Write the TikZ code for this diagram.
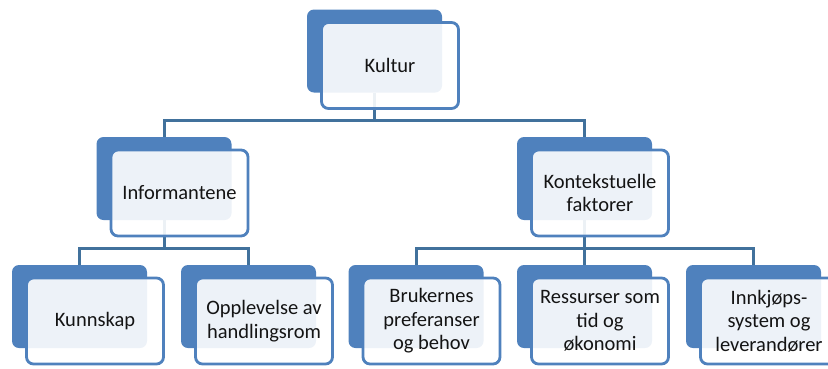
\documentclass[tikz,border=0pt]{standalone}
\usepackage{fontspec}
\setmainfont{Carlito}
\usepackage{xcolor}
\usepackage{tikz}
\usetikzlibrary{calc, backgrounds}
\definecolor{boksblaa}{RGB}{79,129,189}
\definecolor{linjeblaa}{RGB}{65,113,156}
\tikzset{every node/.append style={font=\fontsize{20.5}{23.5}\selectfont}}

\begin{document}
\begin{tikzpicture}[x=1pt, y=-1pt,
    bak/.style={fill=boksblaa, rounded corners=7pt, minimum width=135pt, minimum height=83pt, inner sep=0pt},
    front/.style={draw=boksblaa, line width=2.8pt, fill=white, fill opacity=0.9, text opacity=1,
      rounded corners=7pt, minimum width=137pt, minimum height=86pt, inner sep=0pt, align=center, text=black!92},
    kobling/.style={draw=linjeblaa, line width=3pt}]
    \useasboundingbox (0,0) rectangle (828,368);
    \clip (0,0) rectangle (828,368);
    \coordinate (bar1) at (0,120);
    \coordinate (bar2) at (0,248);
    \node[bak] (kulturB) at (374.5,51) {};
    \node[bak] (infoB) at (164,178.5) {};
    \node[bak] (kontB) at (584.5,178.5) {};
    \node[bak] (kunnB) at (79.5,306.5) {};
    \node[bak] (oppB) at (248.5,306.5) {};
    \node[bak] (brukB) at (416,306.5) {};
    \node[bak] (ressB) at (584.5,306.5) {};
    \node[bak] (innkB) at (753.5,306.5) {};
    \node[front] (kulturF) at ($(kulturB)+(15.5,14.5)$) {Kultur};
    \node[front] (infoF) at ($(infoB)+(15.5,14.5)$) {Informantene};
    \node[front] (kontF) at ($(kontB)+(15.5,14.5)$) {Kontekstuelle\\faktorer};
    \node[front] (kunnF) at ($(kunnB)+(15.5,14.5)$) {Kunnskap};
    \node[front] (oppF) at ($(oppB)+(15.5,14.5)$) {Opplevelse av\\handlingsrom};
    \node[front] (brukF) at ($(brukB)+(15.5,14.5)$) {Brukernes\\preferanser\\og behov};
    \node[front] (ressF) at ($(ressB)+(15.5,14.5)$) {Ressurser som\\tid og\\økonomi};
    \node[front] (innkF) at ($(innkB)+(15.5,14.5)$) {Innkjøps-\\system og\\leverandører};
    \begin{pgfonlayer}{background}
        \draw[kobling] (kulturB.south) -- (kulturB.south |- bar1) -| (infoB.north);
        \draw[kobling] (kulturB.south |- bar1) -| (kontB.north);
        \draw[kobling] (infoB.south) -- (infoB.south |- bar2) -| (kunnB.north);
        \draw[kobling] (infoB.south |- bar2) -| (oppB.north);
        \draw[kobling] (kontB.south) -- (kontB.south |- bar2) -| (brukB.north);
        \draw[kobling] (kontB.south |- bar2) -| (innkB.north);
        \draw[kobling] (kontB.south |- bar2) -- (ressB.north);
    \end{pgfonlayer}
\end{tikzpicture}
\end{document}
